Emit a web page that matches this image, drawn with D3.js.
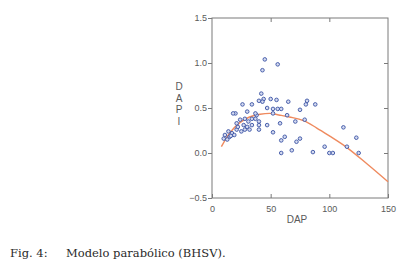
<!DOCTYPE html>
<html>
<head>
<meta charset="utf-8">
<script src="https://cdn.jsdelivr.net/npm/d3@7"></script>
<style>
body { margin: 0; background: #fff; }
svg { display: block; }
</style>
</head>
<body>
<script>
"use strict";
// observed points (DAP, DAPI)
const dap = [45, 56, 43, 42, 26, 34, 40, 44, 50, 55, 65, 81, 80, 88, 75, 47, 52, 56, 59, 30, 20,
	43, 18, 38, 40, 52, 64, 58, 71, 79, 52, 62, 59, 72, 75, 59, 68, 86, 96, 100, 103, 112, 115, 123, 125,
	10, 11, 14, 15, 17, 19, 21, 22, 25, 28, 27, 30, 31, 34, 37, 40, 34, 47, 37, 21, 28, 40, 32, 24, 13, 16];
const dapi = [1.04, 0.985, 0.92, 0.66, 0.54, 0.54, 0.58, 0.60, 0.60, 0.59, 0.57, 0.58, 0.54, 0.54, 0.48, 0.50, 0.49, 0.49, 0.49, 0.46, 0.44,
	0.57, 0.44, 0.42, 0.35, 0.44, 0.42, 0.33, 0.35, 0.37, 0.23, 0.18, 0.14, 0.125, 0.16, 0.0, 0.03, 0.01, 0.07, 0.0, 0.0, 0.285, 0.07, 0.17, 0.0,
	0.16, 0.20, 0.24, 0.18, 0.22, 0.20, 0.26, 0.29, 0.24, 0.26, 0.31, 0.29, 0.35, 0.38, 0.38, 0.31, 0.31, 0.31, 0.44, 0.33, 0.38, 0.26, 0.26, 0.37, 0.15, 0.19];
// fitted parabolic model
const fitDap = [8, 15, 24, 32, 41, 49, 58, 66, 78, 89, 100, 115, 132, 150];
const fitDapi = [0.07, 0.22, 0.34, 0.40, 0.43, 0.44, 0.42, 0.40, 0.36, 0.28, 0.19, 0.06, -0.12, -0.32];
const xTicks = [0, 50, 100, 150];
const yTicks = [-0.5, 0.0, 0.5, 1.0, 1.5];
const yLetters = ["D", "A", "P", "I"];
const caption = ["Fig. 4:", "Modelo parabólico (BHSV)."];

const width = 413, height = 266;
const svg = d3.select("body").append("svg")
	.attr("width", width)
	.attr("height", height);

const x = d3.scaleLinear().domain([0, 150]).range([212, 388]);
const y = d3.scaleLinear().domain([-0.5, 1.5]).range([198, 18]);
const axisColor = "#7a7a7a";
const labelColor = "#5a5a5a";

// frame
svg.append("rect")
	.attr("x", x(0)).attr("y", y(1.5))
	.attr("width", x(150) - x(0)).attr("height", y(-0.5) - y(1.5))
	.attr("fill", "none").attr("stroke", axisColor).attr("stroke-width", 1);

function styleAxis(g) {
	g.select(".domain").remove();
	g.selectAll("line").attr("stroke", axisColor);
	g.selectAll("text").attr("fill", labelColor)
		.style("font-family", "Liberation Sans, Arial, sans-serif").style("font-size", "9px");
}

svg.append("g")
	.attr("transform", "translate(0," + y(-0.5) + ")")
	.call(d3.axisBottom(x).tickValues(xTicks).tickFormat(d3.format("d")).tickSizeInner(-4).tickPadding(8))
	.call(styleAxis);
svg.append("g")
	.attr("transform", "translate(" + x(0) + ",0)")
	.call(d3.axisLeft(y).tickValues(yTicks).tickFormat(d3.format(".1f")).tickSizeInner(4).tickPadding(1))
	.call(styleAxis);
svg.append("g")
	.attr("transform", "translate(0," + y(1.5) + ")")
	.call(d3.axisTop(x).tickValues(xTicks.slice(1, 3)).tickFormat("").tickSizeInner(-4))
	.call(styleAxis);
svg.append("g")
	.attr("transform", "translate(" + x(150) + ",0)")
	.call(d3.axisRight(y).tickValues(yTicks.slice(1, 4)).tickFormat("").tickSizeInner(-4))
	.call(styleAxis);

// axis titles
svg.append("text")
	.attr("x", 297).attr("y", 223)
	.attr("text-anchor", "middle")
	.attr("fill", labelColor)
	.style("font-family", "Liberation Sans, Arial, sans-serif").style("font-size", "10px")
	.text("DAP");
svg.selectAll(".ylet")
	.data(yLetters)
	.enter().append("text")
	.attr("class", "ylet")
	.attr("x", 179).attr("y", (d, i) => 90 + i * 11.7)
	.attr("text-anchor", "middle")
	.attr("fill", labelColor)
	.style("font-family", "Liberation Sans, Arial, sans-serif").style("font-size", "10px")
	.text(d => d);

// fitted curve
const line = d3.line()
	.x((d, i) => x(fitDap[i]))
	.y(d => y(d))
	.curve(d3.curveMonotoneX);
svg.append("path")
	.attr("d", line(fitDapi))
	.attr("fill", "none")
	.attr("stroke", "#ef8a5e")
	.attr("stroke-width", 1.4);

// points
svg.selectAll(".pt")
	.data(dap)
	.enter().append("circle")
	.attr("class", "pt")
	.attr("cx", d => x(d))
	.attr("cy", (d, i) => y(dapi[i]))
	.attr("r", 1.8)
	.attr("fill", "#d4daf0")
	.attr("stroke", "#3a52a4")
	.attr("stroke-width", 0.9);

// caption
svg.append("text")
	.attr("x", 10).attr("y", 257)
	.attr("fill", "#2a2a2a")
	.style("font-family", "DejaVu Serif, serif").style("font-size", "11.5px")
	.text(caption[0]);
svg.append("text")
	.attr("x", 66).attr("y", 257)
	.attr("fill", "#2a2a2a")
	.style("font-family", "DejaVu Serif, serif").style("font-size", "11.5px")
	.text(caption[1]);
</script>
</body>
</html>
